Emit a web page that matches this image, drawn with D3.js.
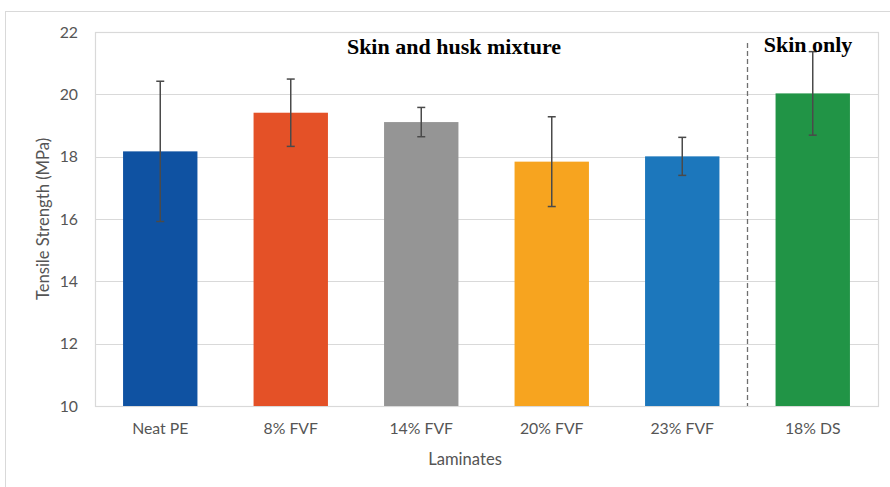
<!DOCTYPE html>
<html><head><meta charset="utf-8">
<script src="https://cdn.jsdelivr.net/npm/d3@7/dist/d3.min.js"></script>
<style>body{margin:0;background:#fff}svg{display:block}</style>
</head><body>
<svg id="c" width="890" height="487"></svg>
<script>
const categories = ["Neat PE","8% FVF","14% FVF","20% FVF","23% FVF","18% DS"];
const values = [18.17, 19.41, 19.11, 17.84, 18.01, 20.03];
const errors = [2.25, 1.08, 0.47, 1.44, 0.61, 1.34];
const colors = ["#0F52A2","#E45127","#959595","#F7A41F","#1C77BC","#219446"];
const yTicks = [10,12,14,16,18,20,22];
const groupLabels = ["Skin and husk mixture","Skin only"];

const svg = d3.select("#c");
const m = {l:95, t:32, r:878, b:406};
const x = d3.scaleBand().domain(categories).range([m.l,m.r]).paddingInner(0.43).paddingOuter(0.215);
const y = d3.scaleLinear().domain([10,22]).range([m.b,m.t]);
const font = "Lato, 'Open Sans', sans-serif";

// outer frame
svg.append("rect").attr("x",5.5).attr("y",11.5).attr("width",900).attr("height",500)
  .attr("fill","none").attr("stroke","#d9d9d9").attr("stroke-width",1);

// gridlines
svg.append("g").selectAll("line").data(yTicks).join("line")
  .attr("x1",m.l).attr("x2",m.r).attr("y1",d=>Math.round(y(d))+0.5).attr("y2",d=>Math.round(y(d))+0.5)
  .attr("stroke","#d9d9d9").attr("stroke-width",1.2);
// plot frame
svg.append("rect").attr("x",m.l+0.5).attr("y",m.t+0.5).attr("width",m.r-m.l).attr("height",m.b-m.t)
  .attr("fill","none").attr("stroke","#d9d9d9").attr("stroke-width",1.2);

// y axis labels
const yAxis = d3.axisLeft(y).tickValues(yTicks).tickSize(0).tickPadding(17);
const ya = svg.append("g").attr("transform",`translate(${m.l},0)`).call(yAxis);
ya.select(".domain").remove();
ya.selectAll("text").attr("font-family",font).attr("font-size",15.8).attr("fill","#555");

// x axis labels
const xAxis = d3.axisBottom(x).tickSize(0).tickPadding(17);
const xa = svg.append("g").attr("transform",`translate(0,${m.b})`).call(xAxis);
xa.select(".domain").remove();
xa.selectAll("text").attr("font-family",font).attr("font-size",15.8).attr("fill","#555");

// bars
svg.append("g").selectAll("rect").data(categories).join("rect")
  .attr("x",d=>x(d)).attr("width",x.bandwidth())
  .attr("y",(d,i)=>y(values[i])).attr("height",(d,i)=>y(10)-y(values[i]))
  .attr("fill",(d,i)=>colors[i]);

// error bars
const eb = svg.append("g").attr("stroke","#4a4a4a").attr("stroke-width",1.5);
categories.forEach((c,i)=>{
  const cx = x(c)+x.bandwidth()/2;
  const y1 = y(values[i]+errors[i]), y2 = y(values[i]-errors[i]);
  eb.append("line").attr("x1",cx).attr("x2",cx).attr("y1",y1).attr("y2",y2);
  eb.append("line").attr("x1",cx-4).attr("x2",cx+4).attr("y1",y1).attr("y2",y1);
  eb.append("line").attr("x1",cx-4).attr("x2",cx+4).attr("y1",y2).attr("y2",y2);
});

// dashed separator
const sepX = (x("23% FVF")+x.bandwidth() + x("18% DS"))/2;
svg.append("line").attr("x1",sepX).attr("x2",sepX).attr("y1",43).attr("y2",m.b)
  .attr("stroke","#6f6f6f").attr("stroke-width",1.3).attr("stroke-dasharray","5,3");

// group labels
svg.append("text").attr("x",454).attr("y",54).attr("text-anchor","middle")
  .attr("font-family","'Liberation Serif','Times New Roman',serif").attr("font-weight","bold")
  .attr("font-size",22).attr("fill","#000").text(groupLabels[0]);
svg.append("text").attr("x",808).attr("y",52).attr("text-anchor","middle")
  .attr("font-family","'Liberation Serif','Times New Roman',serif").attr("font-weight","bold")
  .attr("font-size",22).attr("fill","#000").text(groupLabels[1]);

// axis titles
svg.append("text").attr("transform","translate(49,219) rotate(-90)").attr("text-anchor","middle")
  .attr("font-family",font).attr("font-size",16.6).attr("fill","#555").text("Tensile Strength (MPa)");
svg.append("text").attr("x",465).attr("y",465).attr("text-anchor","middle")
  .attr("font-family",font).attr("font-size",16.6).attr("fill","#555").text("Laminates");
</script>
</body></html>
